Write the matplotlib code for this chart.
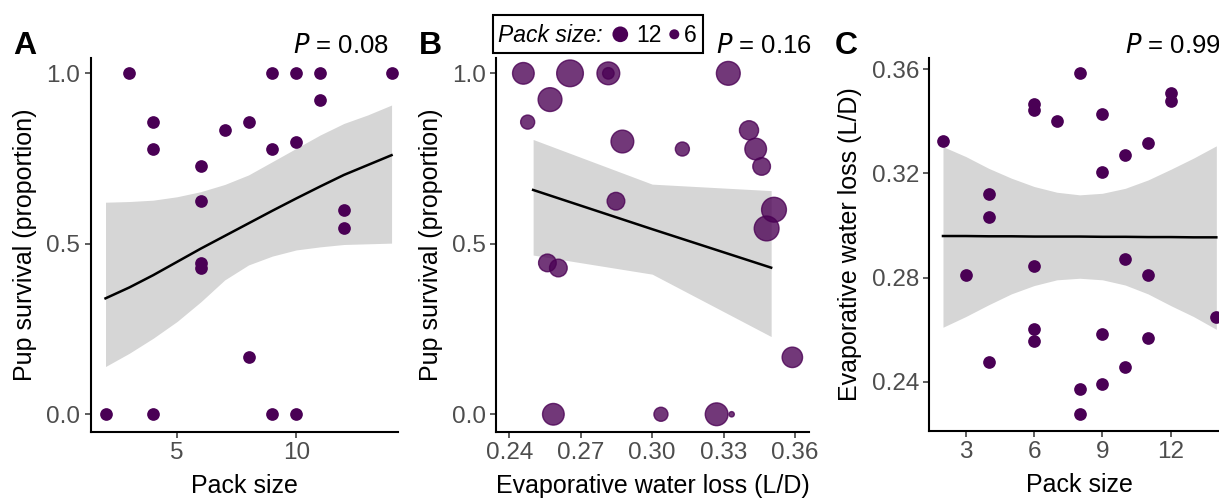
import matplotlib
matplotlib.use("Agg")
import matplotlib.pyplot as plt
import numpy as np
from matplotlib.patches import Rectangle

plt.rcParams['font.family'] = ['Liberation Sans', 'DejaVu Sans']

# Panel A: pack size vs pup survival
packA = [2, 3, 4, 4, 4, 6, 6, 6, 6, 7, 8, 8, 9, 9, 9, 10, 10, 10, 11, 11, 12, 12, 14]
survA = [0, 1, 0.857, 0.778, 0, 0.727, 0.625, 0.444, 0.429, 0.833, 0.857, 0.167,
         1, 0.778, 0, 1, 0.8, 0, 1, 0.923, 0.6, 0.545, 1]
fitA_x = [2, 3, 4, 5, 6, 7, 8, 9, 10, 11, 12, 13, 14]
fitA_y = [0.340, 0.372, 0.408, 0.447, 0.486, 0.523, 0.560, 0.597, 0.633, 0.668, 0.702, 0.731, 0.760]
fitA_lo = [0.140, 0.179, 0.223, 0.272, 0.330, 0.394, 0.438, 0.464, 0.482, 0.491, 0.498, 0.500, 0.502]
fitA_hi = [0.622, 0.624, 0.628, 0.638, 0.653, 0.674, 0.702, 0.741, 0.780, 0.819, 0.853, 0.878, 0.907]

# Panel B: evaporative water loss vs pup survival, sized by pack size
ewlB = [0.2459, 0.2655, 0.2816, 0.2816, 0.3320, 0.2571, 0.2477, 0.2875, 0.3127, 0.3407, 0.3435,
        0.3460, 0.2848, 0.3512, 0.3481, 0.2560, 0.2606, 0.3589, 0.2585, 0.3037, 0.3271, 0.3334]
survB = [1, 1, 1, 1, 1, 0.923, 0.857, 0.8, 0.778, 0.833, 0.778,
         0.727, 0.625, 0.6, 0.545, 0.444, 0.429, 0.167, 0, 0, 0, 0]
packB = [9, 14, 10, 3, 11, 11, 4, 10, 4, 7, 9, 6, 6, 12, 12, 6, 6, 8, 9, 4, 10, 2]
fitB_x = [0.25, 0.30, 0.35]
fitB_y = [0.658, 0.543, 0.430]
fitB_lo = [0.467, 0.411, 0.228]
fitB_hi = [0.806, 0.675, 0.656]

# Panel C: pack size vs evaporative water loss
packC = [2, 3, 4, 4, 4, 6, 6, 6, 6, 6, 7, 8, 8, 8, 9, 9, 9, 9, 10, 10, 10, 11, 11, 11, 12, 12, 14]
ewlC = [0.3326, 0.2811, 0.3120, 0.3032, 0.2477, 0.3465, 0.3445, 0.2845, 0.2605, 0.2556, 0.3401,
        0.3585, 0.2372, 0.2276, 0.3429, 0.3206, 0.2583, 0.2391, 0.3270, 0.2872, 0.2458, 0.3315,
        0.2812, 0.2569, 0.3507, 0.3479, 0.2651]
fitC_x = [2, 3, 4, 5, 6, 7, 8, 9, 10, 11, 12, 13, 14]
fitC_y = [0.2960, 0.2960, 0.2959, 0.2959, 0.2958, 0.2958, 0.2958, 0.2957, 0.2957, 0.2956, 0.2956, 0.2955, 0.2955]
fitC_lo = [0.2610, 0.2651, 0.2696, 0.2738, 0.2770, 0.2792, 0.2798, 0.2792, 0.2772, 0.2738, 0.2693, 0.2651, 0.2602]
fitC_hi = [0.3303, 0.3265, 0.3220, 0.3182, 0.3150, 0.3128, 0.3118, 0.3124, 0.3143, 0.3175, 0.3216, 0.3259, 0.3306]

p_labels = ["0.08", "0.16", "0.99"]
legend_packs = [12, 6]

PURPLE = "#4a0055"
BAND = "#d6d6d6"
W, H = 1219, 500

fig = plt.figure(figsize=(W / 100, H / 100), dpi=100)


# axes placed from pixel coords (top-origin)
def px_axes(l, r, b, t):
    return fig.add_axes([l / W, 1 - b / H, (r - l) / W, (b - t) / H])


def style(ax):
    for s in ["top", "right"]:
        ax.spines[s].set_visible(False)
    for s in ["left", "bottom"]:
        ax.spines[s].set_linewidth(1.5)
    ax.tick_params(length=4, width=1.1, color="#333333", labelcolor="#4d4d4d",
                   labelsize=17.5, pad=3.5)


def pt_diam(px):
    return (px * 0.72) ** 2


axA = px_axes(90.5, 398, 432, 58)
axB = px_axes(496, 809, 432, 58)
axC = px_axes(929.3, 1230, 431, 58)

# A
axA.fill_between(fitA_x, fitA_lo, fitA_hi, color=BAND, lw=0, zorder=1)
axA.plot(fitA_x, fitA_y, color="black", lw=1.8, zorder=2)
axA.scatter(packA, survA, s=pt_diam(12.7), color=PURPLE, lw=0, zorder=3)
axA.set_xlim(1.37, 14.27)
axA.set_ylim(-0.052, 1.045)
axA.set_xticks([5, 10])
axA.set_yticks([0, 0.5, 1.0], ["0.0", "0.5", "1.0"])
axA.set_xlabel("Pack size")
axA.set_ylabel("Pup survival (proportion)")

# B
axB.fill_between(fitB_x, fitB_lo, fitB_hi, color=BAND, lw=0, zorder=1)
axB.plot(fitB_x, fitB_y, color="black", lw=1.8, zorder=2)
packB_arr = np.array(packB)
diamB = (16 + 64 * np.sqrt((packB_arr - 2) / 12)) / 3
order = np.argsort(-diamB)
axB.scatter(np.array(ewlB)[order], np.array(survB)[order], s=pt_diam(diamB[order]),
            facecolor=(0.29, 0.0, 0.33, 0.78), edgecolor=(0.29, 0.0, 0.33, 0.78),
            lw=1.0, zorder=3)
axB.set_xlim(0.2344, 0.3659)
axB.set_ylim(-0.052, 1.045)
axB.set_xticks([0.24, 0.27, 0.30, 0.33, 0.36], ["0.24", "0.27", "0.30", "0.33", "0.36"])
axB.set_yticks([0, 0.5, 1.0], ["0.0", "0.5", "1.0"])
axB.set_xlabel("Evaporative water loss (L/D)")
axB.set_ylabel("Pup survival (proportion)")

# C
axC.fill_between(fitC_x, fitC_lo, fitC_hi, color=BAND, lw=0, zorder=1)
axC.plot(fitC_x, fitC_y, color="black", lw=1.8, zorder=2)
axC.scatter(packC, ewlC, s=pt_diam(12.7), color=PURPLE, lw=0, zorder=3, clip_on=False)
axC.set_xlim(1.4, 14.6)
axC.set_ylim(0.2212, 0.3643)
axC.set_xticks([3, 6, 9, 12])
axC.set_yticks([0.24, 0.28, 0.32, 0.36], ["0.24", "0.28", "0.32", "0.36"])
axC.set_xlabel("Pack size")
axC.set_ylabel("Evaporative water loss (L/D)")

for ax, lab_x in [(axA, 25), (axB, 431), (axC, 850)]:
    style(ax)
    pos = ax.get_position()
    ax.xaxis.label.set_fontsize(18)
    ax.yaxis.label.set_fontsize(18)
    ax.xaxis.label.set_va("baseline")
    ax.xaxis.set_label_coords(0.5, (432 - 493) / 374)
    ax.yaxis.label.set_va("center")
    ax.yaxis.set_label_coords((lab_x / W - pos.x0) / pos.width, 0.5)

# panel letters and P values
for letter, lx in [("A", 13), ("B", 419), ("C", 835)]:
    fig.text(lx / W, 1 - 53.5 / H, letter, fontsize=23, fontweight="bold", va="baseline")

for txt, px, ha in [(p_labels[0], 388.5, "right"), (p_labels[1], 811.5, "right"), (p_labels[2], 1125, "left")]:
    fig.text(px / W, 1 - 53 / H, r"$\it{P}$" + " = " + txt, fontsize=18.5, ha=ha, va="baseline")

# legend box for panel B
fig.patches.append(Rectangle((493 / W, 1 - 52.5 / H), 210 / W, 37.5 / H, transform=fig.transFigure,
                             fill=False, edgecolor="black", lw=1.5))
fig.text(498 / W, 1 - 41.8 / H, "Pack size:", fontsize=16.5, style="italic", va="baseline")
legax = fig.add_axes([0, 0, 1, 1], facecolor="none")
legax.set_xlim(0, W)
legax.set_ylim(H, 0)
legax.axis("off")
legax.scatter([620.3, 674.3], [34.3, 34.3], s=[pt_diam(15.7), pt_diam(10)], color=PURPLE, lw=0)
legax.text(636.5, 41.8, str(legend_packs[0]), fontsize=16.5, va="baseline")
legax.text(683.5, 41.8, str(legend_packs[1]), fontsize=16.5, va="baseline")

fig.savefig("out.png", dpi=100)
